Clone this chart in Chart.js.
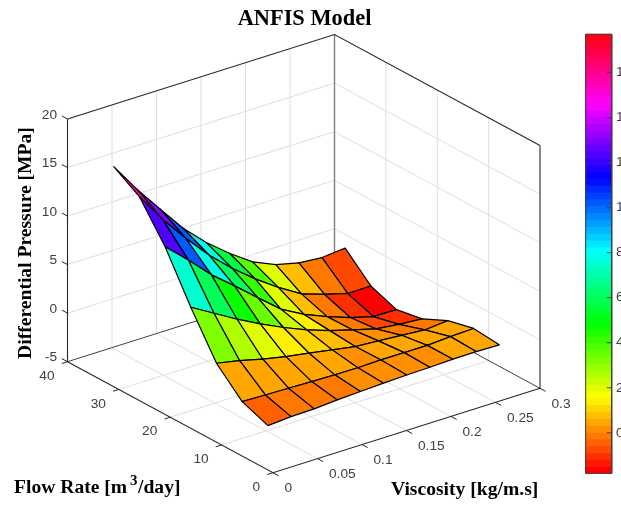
<!DOCTYPE html>
<html>
<head>
<meta charset="utf-8">
<title>ANFIS Model</title>
<script src="https://cdn.jsdelivr.net/npm/chart.js@4/dist/chart.umd.min.js"></script>
<style>
  html, body { margin: 0; padding: 0; background: #fff; overflow: hidden; }
  canvas { display: block; }
</style>
</head>
<body>
<canvas id="chart" width="621" height="506"></canvas>
<script>
// ========== DATA ==========
const viscosity = [0, 0.026, 0.052, 0.078, 0.104, 0.13, 0.156, 0.182, 0.208, 0.234, 0.26];
const flowRate = [1, 6, 11, 16, 21, 26, 31];

// one row per flow rate, one column per viscosity
const pressure0 = [-0.44, -0.26, -0.22, -0.05, 0.06, 0.17, 0.26, 0.30, 0.38, 0.41, 0.35];
const pressure1 = [0.60, 0.54, 0.48, 0.41, 0.35, 0.33, 0.38, 0.38, 0.37, 0.52, 0.61];
const pressure2 = [3.13, 2.64, 2.04, 1.55, 1.15, 0.74, 0.33, 0.16, -0.02, -0.22, -0.01];
const pressure3 = [7.47, 6.10, 4.73, 3.50, 2.37, 1.38, 0.54, -0.14, -0.79, -1.08, -1.26];
const pressure4 = [12.28, 10.16, 7.87, 5.98, 4.02, 2.08, 0.78, -0.20, -1.05, -1.70, -1.74];
const pressure5 = [16.00, 12.92, 10.21, 7.74, 5.62, 3.77, 2.13, 0.71, -0.10, -0.75, -0.73];
const pressure6 = [17.67, 14.60, 11.80, 9.06, 6.83, 4.98, 3.33, 2.29, 1.73, 1.52, 1.74];
const pressure = [pressure0, pressure1, pressure2, pressure3, pressure4, pressure5, pressure6];

const xTicks = [0, 0.05, 0.1, 0.15, 0.2, 0.25, 0.3];
const yTicks = [0, 10, 20, 30, 40];
const zTicks = [-5, 0, 5, 10, 15, 20];
const colorTicks = [0, 2, 4, 6, 8, 10, 12, 14, 16];

const colorMin = -1.8;
const colorMax = 17.7;
const colorSteps = 64;

// ========== 3D VIEW ==========
// axes box corners, in canvas pixels
const xMax = 0.3, yMax = 40, zMin = -5, zMax = 20;

function project(x, y, z) {
  const a = x / xMax;
  const b = y / yMax;
  return {
    x: 273 + 267 * a - 205.5 * b,
    y: 472.7 - 84.4 * a - 111 * b - 9.708 * (z - zMin)
  };
}

// MATLAB hsv colormap
function stepColor(step) {
  const h = (step / colorSteps) * 6;
  const f = h - Math.floor(h);
  const rgb = [
    [1, f, 0], [1 - f, 1, 0], [0, 1, f], [0, 1 - f, 1], [f, 0, 1], [1, 0, 1 - f]
  ][Math.floor(h) % 6];
  return `rgb(${rgb.map((c) => Math.round(c * 255)).join(",")})`;
}

function valueColor(v) {
  const t = (v - colorMin) / (colorMax - colorMin);
  return stepColor(Math.max(0, Math.min(colorSteps - 1, Math.floor(t * colorSteps))));
}

// ========== DATASETS ==========
const paintOrder = []; // first in the list is painted first

function addLine(points, color, width) {
  paintOrder.push({
    data: points,
    showLine: true,
    fill: false,
    borderColor: color,
    borderWidth: width,
    pointRadius: 0,
    tension: 0
  });
}

function addCell(points, fillColor, edgeColor, edgeWidth) {
  paintOrder.push({
    data: points.concat([points[0]]),
    showLine: true,
    fill: "shape",
    backgroundColor: fillColor,
    borderColor: edgeColor,
    borderWidth: edgeWidth,
    borderJoinStyle: "round",
    pointRadius: 0,
    tension: 0
  });
}

// grid on the two walls and the floor
const gridColor = "#dedede";
xTicks.slice(1, -1).forEach((x) => {
  addLine([project(x, yMax, zMin), project(x, yMax, zMax)], gridColor, 1);
  addLine([project(x, 0, zMin), project(x, yMax, zMin)], gridColor, 1);
});
yTicks.slice(1, -1).forEach((y) => {
  addLine([project(xMax, y, zMin), project(xMax, y, zMax)], gridColor, 1);
  addLine([project(0, y, zMin), project(xMax, y, zMin)], gridColor, 1);
});
zTicks.slice(1, -1).forEach((z) => {
  addLine([project(0, yMax, z), project(xMax, yMax, z)], gridColor, 1);
  addLine([project(xMax, yMax, z), project(xMax, 0, z)], gridColor, 1);
});

// axes box
const axisColor = "#262626";
addLine([project(xMax, yMax, zMin), project(xMax, yMax, zMax)], "#808080", 1.4);
addLine([project(0, yMax, zMin), project(xMax, yMax, zMin), project(xMax, 0, zMin)], "#404040", 1);
addLine([project(0, yMax, zMax), project(xMax, yMax, zMax), project(xMax, 0, zMax)], axisColor, 1.1);
addLine([project(0, yMax, zMin), project(0, yMax, zMax)], axisColor, 1.1);
addLine([project(xMax, 0, zMin), project(xMax, 0, zMax)], axisColor, 1.1);
addLine([project(0, yMax, zMin), project(0, 0, zMin), project(xMax, 0, zMin)], axisColor, 1.1);

// tick marks
xTicks.forEach((x) => addLine([project(x, 0, zMin), project(x, -1.1, zMin)], axisColor, 1));
yTicks.forEach((y) => addLine([project(0, y, zMin), project(-0.0065, y, zMin)], axisColor, 1));
zTicks.forEach((z) => addLine([project(0, yMax, z), project(0, yMax + 1.1, z)], axisColor, 1));

// surface, far cells first, colored by their lowest-index corner
for (let j = flowRate.length - 2; j >= 0; j--) {
  for (let i = viscosity.length - 2; i >= 0; i--) {
    addCell([
      project(viscosity[i], flowRate[j], pressure[j][i]),
      project(viscosity[i + 1], flowRate[j], pressure[j][i + 1]),
      project(viscosity[i + 1], flowRate[j + 1], pressure[j + 1][i + 1]),
      project(viscosity[i], flowRate[j + 1], pressure[j + 1][i])
    ], valueColor(pressure[j][i]), "#000", 1.2);
  }
}

// colorbar
const barLeft = 585.7, barRight = 611.7, barTop = 34.3, barBottom = 473.3;

function barY(v) {
  return barBottom - ((v - colorMin) / (colorMax - colorMin)) * (barBottom - barTop);
}

for (let s = 0; s < colorSteps; s++) {
  const lo = colorMin + ((colorMax - colorMin) * s) / colorSteps;
  const hi = colorMin + ((colorMax - colorMin) * (s + 1)) / colorSteps;
  const c = stepColor(s);
  addCell([
    { x: barLeft, y: barY(lo) }, { x: barRight, y: barY(lo) },
    { x: barRight, y: barY(hi) }, { x: barLeft, y: barY(hi) }
  ], c, c, 1);
}
addLine([
  { x: barLeft, y: barTop }, { x: barRight, y: barTop },
  { x: barRight, y: barBottom }, { x: barLeft, y: barBottom }, { x: barLeft, y: barTop }
], "#404040", 1);
colorTicks.forEach((v) => {
  addLine([{ x: barRight - 5, y: barY(v) }, { x: barRight, y: barY(v) }], "#404040", 1);
});

// ========== TEXT ==========
const tickFont = '13.7px "Liberation Sans", Arial, sans-serif';
const labelFont = 'bold 19.6px "Liberation Serif", "Times New Roman", serif';
const supFont = 'bold 15px "Liberation Serif", "Times New Roman", serif';
const titleFont = 'bold 22.4px "Liberation Serif", "Times New Roman", serif';

const textPlugin = {
  id: "textPlugin",
  afterDraw(chart) {
    const ctx = chart.ctx;
    const sx = chart.scales.x;
    const sy = chart.scales.y;

    function put(str, x, y, font, color, align, base) {
      ctx.font = font;
      ctx.fillStyle = color;
      ctx.textAlign = align;
      ctx.textBaseline = base;
      ctx.fillText(str, sx.getPixelForValue(x), sy.getPixelForValue(y));
    }

    ctx.save();
    xTicks.forEach((x) => {
      const p = project(x, 0, zMin);
      put(String(x), p.x + 11.5, p.y + 16, tickFont, "#404040", "left", "middle");
    });
    yTicks.forEach((y) => {
      const p = project(0, y, zMin);
      put(String(y), p.x - 13, p.y + 14.5, tickFont, "#404040", "right", "middle");
    });
    zTicks.forEach((z) => {
      const p = project(0, yMax, z);
      put(String(z), p.x - 10.5, p.y - 4, tickFont, "#404040", "right", "middle");
    });
    colorTicks.forEach((v) => {
      put(String(v), 616, barY(v), tickFont, "#404040", "left", "middle");
    });

    put("ANFIS Model", 304.5, 25, titleFont, "#000", "center", "alphabetic");
    put("Viscosity [kg/m.s]", 391, 495, labelFont, "#000", "left", "alphabetic");

    put("Flow Rate [m", 14, 493, labelFont, "#000", "left", "alphabetic");
    put("3", 130, 485, supFont, "#000", "left", "alphabetic");
    put("/day]", 138, 493, labelFont, "#000", "left", "alphabetic");

    ctx.translate(31, 243);
    ctx.rotate(-Math.PI / 2);
    ctx.font = labelFont;
    ctx.fillStyle = "#000";
    ctx.textAlign = "center";
    ctx.textBaseline = "alphabetic";
    ctx.fillText("Differential Pressure [MPa]", 0, 0);
    ctx.restore();
  }
};

// ========== CHART ==========
new Chart(document.getElementById("chart"), {
  type: "scatter",
  // Chart.js paints the last dataset first
  data: { datasets: paintOrder.reverse() },
  options: {
    responsive: false,
    animation: false,
    events: [],
    layout: { padding: 0 },
    plugins: {
      legend: { display: false },
      tooltip: { enabled: false }
    },
    scales: {
      x: { type: "linear", display: false, min: 0, max: 621 },
      y: { type: "linear", display: false, min: 0, max: 506, reverse: true }
    }
  },
  plugins: [textPlugin]
});
</script>
</body>
</html>
